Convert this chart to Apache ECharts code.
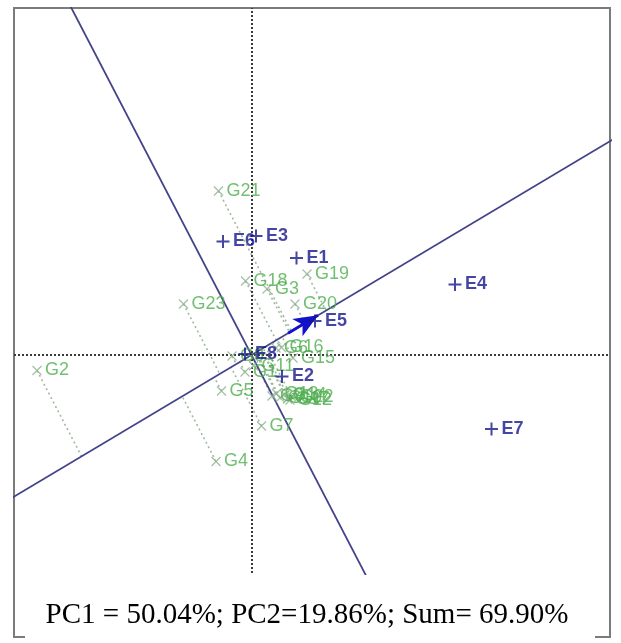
<!DOCTYPE html>
<html>
<head>
<meta charset="utf-8">
<script src="https://cdn.jsdelivr.net/npm/echarts@6/dist/echarts.min.js"></script>
<style>
  html, body { margin: 0; padding: 0; background: #fff; }
  #chart { width: 621px; height: 643px; }
</style>
</head>
<body>
<div id="chart"></div>
<script>
// GGE biplot scores (PC1, PC2)
const envNames = ['E1', 'E2', 'E3', 'E4', 'E5', 'E6', 'E7', 'E8'];
const envPC1 = [0.45, 0.305, 0.045, 2.035, 0.635, -0.285, 2.40, -0.065];
const envPC2 = [0.905, -0.20, 1.11, 0.658, 0.317, 1.059, -0.69, 0.01];

const genNames = ['G1', 'G2', 'G3', 'G4', 'G5', 'G6', 'G7', 'G8', 'G9', 'G10', 'G11', 'G12',
                  'G13', 'G14', 'G15', 'G16', 'G17', 'G18', 'G19', 'G20', 'G21', 'G22', 'G23'];
const genPC1 = [-0.065, -2.145, 0.155, -0.355, -0.30, 0.245, 0.10, -0.195, 0.205, 0.285, 0.02, 0.385,
                0.25, 0.33, 0.415, 0.30, 0.36, -0.06, 0.555, 0.435, -0.33, 0.40, -0.68];
const genPC2 = [-0.159, -0.145, 0.616, -0.993, -0.336, 0.065, -0.662, -0.01, -0.382, -0.40, -0.10, -0.42,
                -0.36, -0.37, -0.028, 0.07, -0.41, 0.69, 0.756, 0.476, 1.53, -0.39, 0.476];

// average environment coordinate
const avgEnv = [0.665, 0.37];

const variance = { pc1: '50.04%', pc2: '19.86%', sum: '69.90%' };

// axis window
const xRange = [-2.375, 3.585];
const yRange = [-2.631, 3.237];

const plusPath = 'path://M0,5L10,5M5,0L5,10';
const crossPath = 'path://M0,0L10,10M10,0L0,10';

const BLUE = '#16168c';
const GREEN = '#4fae4f';
const LINE_BLUE = '#43438a';

// projections of each genotype onto the average-environment axis
const dd = avgEnv[0] * avgEnv[0] + avgEnv[1] * avgEnv[1];
const projSeries = genNames.map((n, i) => {
  const t = (genPC1[i] * avgEnv[0] + genPC2[i] * avgEnv[1]) / dd;
  return {
    type: 'line', silent: true, symbol: 'none', z: 1,
    data: [[genPC1[i], genPC2[i]], [t * avgEnv[0], t * avgEnv[1]]],
    lineStyle: { color: '#9fba9f', width: 1.6, type: [2, 3] }
  };
});

const far = 20;
const aeaLine = [[-far * avgEnv[0], -far * avgEnv[1]], [far * avgEnv[0], far * avgEnv[1]]];
const atcLine = [[far * avgEnv[1], -far * avgEnv[0]], [-far * avgEnv[1], far * avgEnv[0]]];

const chart = echarts.init(document.getElementById('chart'), null, { renderer: 'canvas' });

chart.setOption({
  animation: false,
  backgroundColor: '#fff',
  grid: {
    left: 14, top: 8, width: 596, height: 629,
    show: true, borderColor: '#7b7b7b', borderWidth: 2, backgroundColor: 'transparent'
  },
  xAxis: {
    type: 'value', min: xRange[0], max: xRange[1],
    axisLine: { show: false }, axisTick: { show: false }, axisLabel: { show: false }, splitLine: { show: false }
  },
  yAxis: {
    type: 'value', min: yRange[0], max: yRange[1],
    axisLine: { show: false }, axisTick: { show: false }, axisLabel: { show: false }, splitLine: { show: false }
  },
  series: [
    {
      type: 'line', silent: true, symbol: 'none', z: 2, data: [],
      markLine: {
        silent: true, symbol: 'none', label: { show: false },
        lineStyle: { color: '#3a3a3a', width: 2, type: [2, 2] },
        data: [{ xAxis: 0 }, { yAxis: 0 }]
      }
    },
    ...projSeries,
    {
      type: 'line', silent: true, symbol: 'none', z: 3, data: aeaLine,
      lineStyle: { color: LINE_BLUE, width: 1.8 }
    },
    {
      type: 'line', silent: true, symbol: 'none', z: 3, data: atcLine,
      lineStyle: { color: LINE_BLUE, width: 1.8 }
    },
    {
      type: 'line', silent: true, symbol: 'none', z: 6, data: [],
      markLine: {
        silent: true, animation: false, label: { show: false },
        symbol: ['none', 'arrow'], symbolSize: [15, 24],
        lineStyle: { color: '#1212c8', width: 3, type: 'solid' },
        data: [[{ coord: [avgEnv[0] * 0.55, avgEnv[1] * 0.55] }, { coord: avgEnv }]]
      }
    },
    {
      type: 'scatter', z: 5, symbol: crossPath, symbolSize: 9,
      data: genNames.map((n, i) => ({ name: n, value: [genPC1[i], genPC2[i]] })),
      itemStyle: { color: 'none', borderColor: '#8fb08f', borderWidth: 1.3 },
      label: {
        show: true, position: 'right', distance: 1, formatter: '{b}',
        color: GREEN, fontFamily: 'Liberation Sans', fontSize: 18
      }
    },
    {
      type: 'scatter', z: 7, symbol: plusPath, symbolSize: 13,
      data: envNames.map((n, i) => ({ name: n, value: [envPC1[i], envPC2[i]] })),
      itemStyle: { color: 'none', borderColor: BLUE, borderWidth: 2 },
      label: {
        show: true, position: 'right', distance: 1, formatter: '{b}',
        color: BLUE, fontFamily: 'Liberation Sans', fontSize: 18, fontWeight: 'bold'
      }
    }
  ],
  graphic: [
    {
      type: 'rect', z: 100, shape: { x: 25, y: 575, width: 570, height: 80 },
      style: { fill: '#fff' }
    },
    {
      type: 'text', z: 101, x: 307, y: 615,
      style: {
        text: 'PC1 = ' + variance.pc1 + '; PC2=' + variance.pc2 + '; Sum= ' + variance.sum,
        fill: '#000', font: '29px "Liberation Serif"', align: 'center', verticalAlign: 'middle'
      }
    }
  ]
});
</script>
</body>
</html>
